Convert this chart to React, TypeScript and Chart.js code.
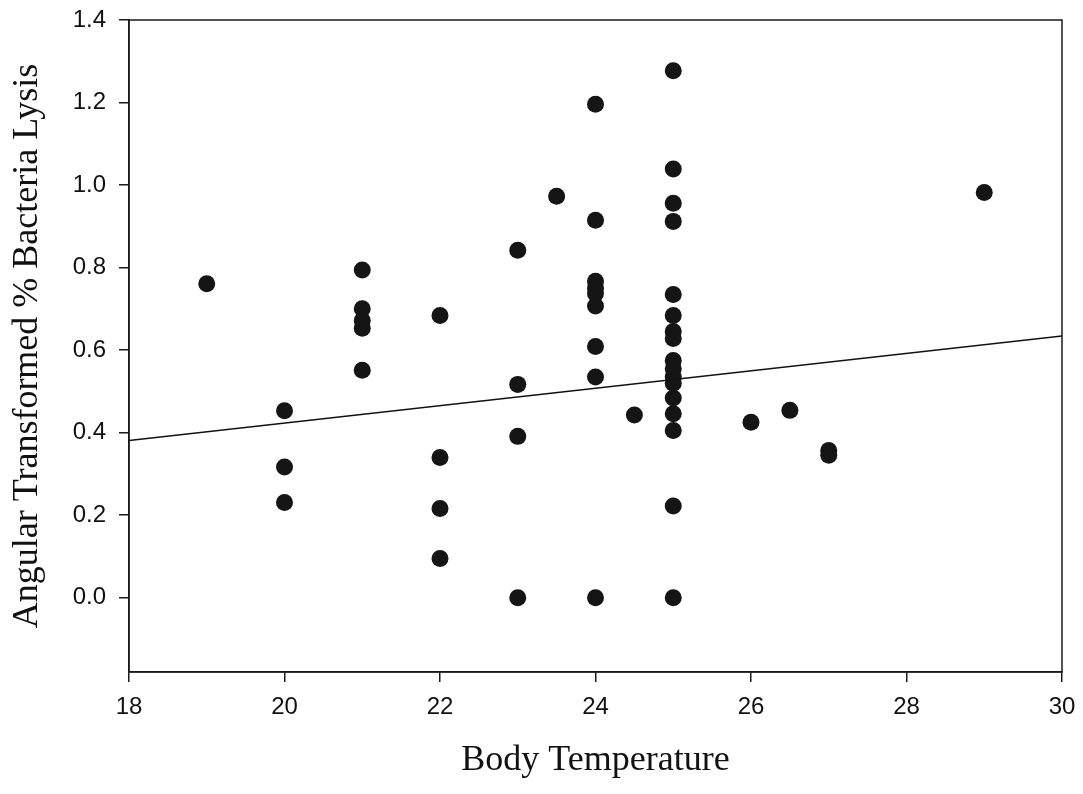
import React, { useEffect, useRef } from "react";
import { Chart, registerables } from "chart.js";

Chart.register(...registerables);

// Body temperature (x) and angular transformed % bacteria lysis (y), paired
const temperatures = [
  19,
  20, 20, 20,
  21, 21, 21, 21, 21,
  22, 22, 22, 22,
  23, 23, 23, 23,
  23.5,
  24, 24, 24, 24, 24, 24, 24, 24, 24,
  24.5,
  25, 25, 25, 25, 25, 25, 25, 25, 25, 25, 25, 25, 25, 25, 25, 25, 25,
  26,
  26.5,
  27, 27,
  29,
];
const lysis = [
  0.761,
  0.453, 0.317, 0.231,
  0.794, 0.7, 0.672, 0.653, 0.551,
  0.684, 0.34, 0.216, 0.095,
  0.842, 0.517, 0.391, 0.0,
  0.973,
  1.196, 0.915, 0.767, 0.75, 0.737, 0.707, 0.609, 0.535, 0.0,
  0.443,
  1.277, 1.039, 0.956, 0.912, 0.735, 0.684, 0.645, 0.628, 0.575, 0.555, 0.535, 0.52, 0.484, 0.446, 0.405, 0.222, 0.0,
  0.425,
  0.454,
  0.357, 0.345,
  0.982,
];

// Regression line end points
const fitX = [18, 30];
const fitY = [0.381, 0.634];

const xTickValues = [18, 20, 22, 24, 26, 28, 30];
const yTickValues = [0.0, 0.2, 0.4, 0.6, 0.8, 1.0, 1.2, 1.4];

const xTitle = "Body Temperature";
const yTitle = "Angular Transformed % Bacteria Lysis";

const frame = {
  id: "frame",
  afterDatasetsDraw(chart: any) {
    const { ctx, chartArea } = chart;
    ctx.save();
    ctx.strokeStyle = "#1a1a1a";
    ctx.lineWidth = 1.5;
    ctx.strokeRect(chartArea.left, chartArea.top, chartArea.right - chartArea.left, chartArea.bottom - chartArea.top);
    ctx.restore();
  },
};

export default function App() {
  const ref = useRef<HTMLCanvasElement | null>(null);

  useEffect(() => {
    document.body.style.margin = "0";
    const canvas = ref.current;
    if (!canvas) return;
    const tickFont = { family: "'Liberation Sans', Arial, sans-serif", size: 24 };
    const titleFont = { family: "'Liberation Serif', 'Times New Roman', serif", size: 36, lineHeight: 1.2 };
    const chart = new Chart(canvas, {
      type: "scatter",
      data: {
        datasets: [
          {
            type: "line",
            data: fitX.map((x, i) => ({ x, y: fitY[i] })),
            borderColor: "#111",
            borderWidth: 1.5,
            pointRadius: 0,
            fill: false,
          } as any,
          {
            data: temperatures.map((x, i) => ({ x, y: lysis[i] })),
            backgroundColor: "#151515",
            borderWidth: 0,
            pointRadius: 8.5,
            pointHoverRadius: 8.5,
          },
        ],
      },
      plugins: [frame],
      options: {
        responsive: false,
        animation: false,
        layout: { padding: { top: 20, right: 21, left: 0, bottom: 0 } },
        plugins: { legend: { display: false }, tooltip: { enabled: false } },
        scales: {
          x: {
            type: "linear",
            min: 18,
            max: 30,
            afterBuildTicks: (s: any) => {
              s.ticks = xTickValues.map((v) => ({ value: v }));
            },
            afterFit: (s: any) => {
              s.height = 122;
              s.paddingLeft = 0;
              s.paddingRight = 0;
            },
            grid: { drawOnChartArea: false, drawTicks: true, tickLength: 10, color: "#1a1a1a", lineWidth: 1.5 },
            border: { display: true, color: "#1a1a1a", width: 1.5 },
            ticks: { font: tickFont, color: "#111", padding: 11, maxRotation: 0, callback: (v: any) => String(v) },
            title: { display: true, text: xTitle, font: titleFont, color: "#111", padding: { top: 0, bottom: 12 } },
          },
          y: {
            type: "linear",
            min: -0.18,
            max: 1.4,
            afterBuildTicks: (s: any) => {
              s.ticks = yTickValues.map((v) => ({ value: v }));
            },
            afterFit: (s: any) => {
              s.width = 129;
              s.paddingTop = 0;
              s.paddingBottom = 0;
            },
            grid: { drawOnChartArea: false, drawTicks: true, tickLength: 10, color: "#1a1a1a", lineWidth: 1.5 },
            border: { display: true, color: "#1a1a1a", width: 1.5 },
            ticks: { font: tickFont, color: "#111", padding: 13, callback: (v: any) => Number(v).toFixed(1) },
            title: { display: true, text: yTitle, font: titleFont, color: "#111", padding: { top: 6, bottom: 0 } },
          },
        },
      },
    });
    return () => chart.destroy();
  }, []);

  return (
    <div style={{ width: 1083, height: 794, background: "#fff" }}>
      <canvas ref={ref} width={1083} height={794} style={{ display: "block" }} />
    </div>
  );
}
